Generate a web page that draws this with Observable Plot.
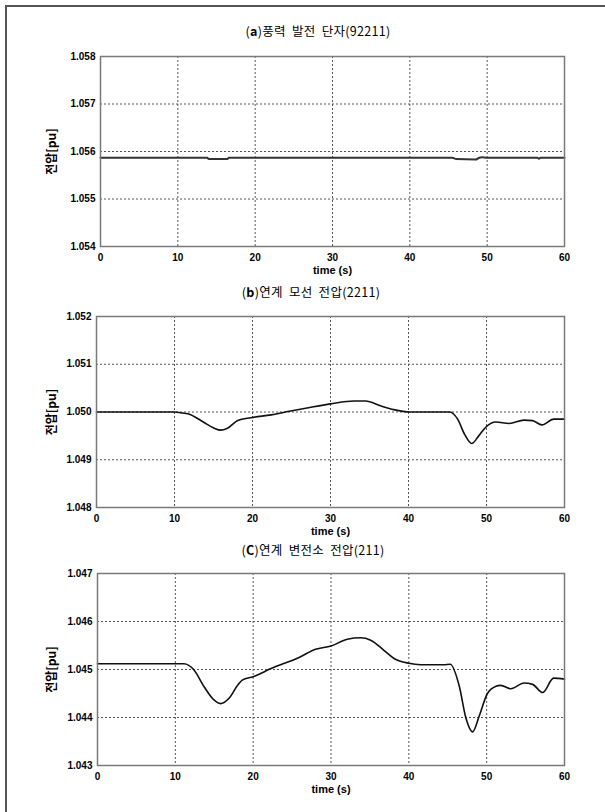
<!DOCTYPE html>
<html>
<head>
<meta charset="utf-8">
<script src="https://cdn.jsdelivr.net/npm/d3@7"></script>
<script src="https://cdn.jsdelivr.net/npm/@observablehq/plot@0.6"></script>
<style>
  body { margin: 0; background: #fff; }
  #page { position: relative; width: 605px; height: 812px; overflow: hidden; background: #fff; }
  #border { position: absolute; left: 5px; top: 5px; width: 800px; height: 900px;
            border-left: 2px solid #555; border-top: 2px solid #555; }
  .title { position: absolute; width: 300px; text-align: center; white-space: nowrap;
           font-family: "Noto Sans CJK KR", sans-serif; font-size: 12.5px; color: #000; line-height: 14px;
           letter-spacing: 0.3px; word-spacing: 3px; }
  .panel { position: absolute; left: 0; }
</style>
</head>
<body>
<div id="page">
  <div id="border"></div>
</div>
<script>
// ---- data ----
const titles = ["(a)풍력 발전 단자(92211)", "(b)연계 모선 전압(2211)", "(C)연계 변전소 전압(211)"];
const yLabel = "전압[pu]";
const xLabel = "time (s)";
const xTicks = [0, 10, 20, 30, 40, 50, 60];

const yTicksA = [1.054, 1.055, 1.056, 1.057, 1.058];
const yTicksB = [1.048, 1.049, 1.050, 1.051, 1.052];
const yTicksC = [1.043, 1.044, 1.045, 1.046, 1.047];

// (a) wind farm terminal 92211
const timeA = [0, 13.8, 14.0, 16.4, 16.6, 45.5, 46.0, 48.5, 49.0, 49.3, 50.0, 56.5, 56.7, 56.9, 60];
const voltA = [1.05587, 1.05587, 1.05584, 1.05584, 1.05587, 1.05587, 1.05584, 1.05583, 1.05587, 1.05588, 1.05587, 1.05587, 1.05585, 1.05587, 1.05587];

// (b) interconnection bus 2211
const timeB = [0, 10, 11, 12, 13, 13.8, 15.1, 15.9, 16.8, 18.1, 19.8, 22.4, 24.9, 27.5, 30, 33, 34.5, 36.4, 38.1, 40.2, 45.3, 46.3, 47.2, 48.1, 49.0, 49.9, 51.2, 52.9, 54.8, 55.9, 57.1, 58.6, 60];
const voltB = [1.05000, 1.05000, 1.04998, 1.04995, 1.04986, 1.04978, 1.04966, 1.04962, 1.04966, 1.04982, 1.04988, 1.04994, 1.05002, 1.05010, 1.05017, 1.05023, 1.05023, 1.05013, 1.05005, 1.05000, 1.05000, 1.04985, 1.04953, 1.04934, 1.04950, 1.04968, 1.04979, 1.04976, 1.04983, 1.04982, 1.04973, 1.04985, 1.04985];

// (c) interconnection substation 211
const timeC = [0, 11.1, 12.4, 13.7, 15.0, 15.8, 16.9, 18.0, 18.6, 20.0, 22.3, 25.9, 28.0, 30.0, 32.1, 33.8, 35.1, 36.8, 38.1, 40.0, 41.5, 44.5, 45.3, 46.5, 47.3, 48.2, 49.0, 50.1, 51.2, 51.8, 53.1, 54.8, 55.9, 57.2, 58.6, 60];
const voltC = [1.04512, 1.04512, 1.04499, 1.04464, 1.04436, 1.04429, 1.04440, 1.04467, 1.04478, 1.04485, 1.04502, 1.04525, 1.04542, 1.04549, 1.04563, 1.04566, 1.04561, 1.04540, 1.04523, 1.04513, 1.04510, 1.04510, 1.04511, 1.04464, 1.04401, 1.04370, 1.04401, 1.04450, 1.04465, 1.04467, 1.04460, 1.04472, 1.04469, 1.04452, 1.04482, 1.04480];

// ---- layout per panel ----
const panels = [
  {title: titles[0], t: timeA, v: voltA, yTicks: yTicksA, top: 40,  mTop: 16, mBottom: 44, mLeft: 100, titleTop: 24,  titleX: 318, stroke: "#333", sw: 2},
  {title: titles[1], t: timeB, v: voltB, yTicks: yTicksB, top: 300, mTop: 16, mBottom: 43, mLeft: 96,  titleTop: 285, titleX: 311, stroke: "#111", sw: 1.6},
  {title: titles[2], t: timeC, v: voltC, yTicks: yTicksC, top: 557, mTop: 16, mBottom: 42, mLeft: 97,  titleTop: 543, titleX: 313, stroke: "#111", sw: 1.6}
];

const page = document.getElementById("page");

panels.forEach(p => {
  const rows = p.t.map((t, i) => ({t, v: p.v[i]}));
  const yDomain = [p.yTicks[0], p.yTicks[p.yTicks.length - 1]];
  const chart = Plot.plot({
    width: 605,
    height: 250,
    marginTop: p.mTop,
    marginBottom: p.mBottom,
    marginLeft: p.mLeft,
    marginRight: 41,
    style: {fontFamily: "'Liberation Sans', Arial, sans-serif", fontSize: "10px", fontWeight: "bold", color: "#000", background: "transparent", overflow: "visible"},
    x: {domain: [0, 60], ticks: xTicks, tickSize: 0, tickPadding: 7, label: null},
    y: {domain: yDomain, ticks: p.yTicks, tickFormat: d3.format(".3f"), tickSize: 0, tickPadding: 5, label: null},
    marks: [
      Plot.ruleX(xTicks.slice(1, -1), {x: d => d, stroke: "#555", strokeWidth: 1, strokeDasharray: "2,2"}),
      Plot.ruleY(p.yTicks.slice(1, -1), {y: d => d, stroke: "#555", strokeWidth: 1, strokeDasharray: "2,2"}),
      Plot.line(rows, {x: "t", y: "v", stroke: p.stroke, strokeWidth: p.sw, curve: "monotone-x"}),
      Plot.frame({stroke: "#7a7a7a", strokeWidth: 1.5}),
      Plot.text([yLabel], {text: d => d, frameAnchor: "left", dx: -p.mLeft + 52, rotate: -90, textAnchor: "middle",
        fontSize: 12, fontWeight: "bold", fontFamily: "'Noto Sans CJK KR', sans-serif", fill: "#000"}),
      Plot.text([xLabel], {text: d => d, frameAnchor: "bottom", dy: 27, textAnchor: "middle",
        fontSize: 11, fontWeight: "bold", fill: "#000"})
    ]
  });
  const holder = document.createElement("div");
  holder.className = "panel";
  holder.style.top = p.top + "px";
  holder.appendChild(chart);
  page.appendChild(holder);

  const t = document.createElement("div");
  t.className = "title";
  t.style.top = p.titleTop + "px";
  t.style.left = (p.titleX - 150) + "px";
  const m = p.title.match(/^\((.)\)(.*)$/);
  t.innerHTML = "(<b>" + m[1] + "</b>)" + m[2];
  page.appendChild(t);
});
</script>
</body>
</html>
